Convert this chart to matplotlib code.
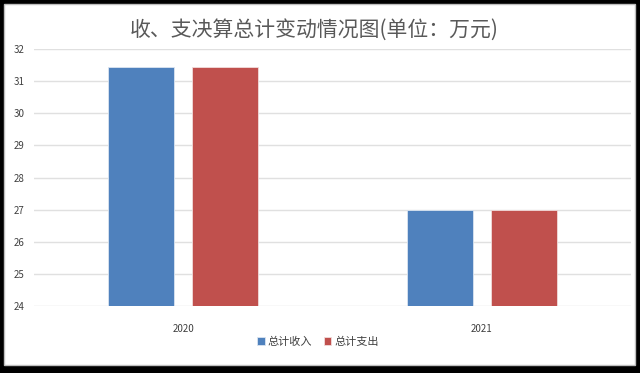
import matplotlib
matplotlib.use("Agg")
import matplotlib.pyplot as plt
from matplotlib.patches import Rectangle
import numpy as np

plt.rcParams['font.family'] = ['Noto Sans CJK SC', 'DejaVu Sans']

years = ["2020", "2021"]
income = [31.45, 27.0]
expense = [31.45, 27.0]
series_names = ["总计收入", "总计支出"]
title = "收、支决算总计变动情况图(单位：万元)"
yticks = [24, 25, 26, 27, 28, 29, 30, 31, 32]

W, H = 640, 373
fig = plt.figure(figsize=(W / 100, H / 100), dpi=100)
fig.patch.set_facecolor("black")
fig.add_artist(Rectangle((4 / W, 1 - 365 / H), 631 / W, 361 / H,
                         transform=fig.transFigure, facecolor="white",
                         edgecolor="#bfbfbf", linewidth=1, zorder=0))

ax = fig.add_axes([34 / W, 1 - 306 / H, 597 / W, 257 / H])
ax.set_facecolor("none")
x = np.arange(len(years))
bw = 0.221
off = 0.1407
ax.bar(x - off, income, bw, bottom=0, color="#4f81bd", edgecolor="#dbe5f1",
       linewidth=0.6, label=series_names[0], zorder=3)
ax.bar(x + off, expense, bw, bottom=0, color="#c0504d", edgecolor="#f2dcdb",
       linewidth=0.6, label=series_names[1], zorder=3)
ax.set_ylim(24, 32)
ax.set_xlim(-0.5, 1.5)
ax.set_yticks(yticks)
ax.set_yticklabels([str(v) for v in yticks])
ax.set_xticks(x)
ax.set_xticklabels(years)
ax.grid(axis="y", color="#e0e0e0", linewidth=1, zorder=0)
ax.set_axisbelow(True)
for s in ax.spines.values():
    s.set_visible(False)
ax.tick_params(axis="both", length=0, labelsize=7, labelcolor="#404040")
ax.tick_params(axis="y", pad=7)
ax.tick_params(axis="x", pad=13)

fig.text(314 / W, 1 - 30 / H, title, ha="center", va="center",
         fontsize=15, color="#595959")

fig.legend(loc="center", bbox_to_anchor=(318 / W, 1 - 342 / H), ncol=2,
           frameon=False, fontsize=8, handlelength=0.7, handleheight=0.7,
           handletextpad=0.3, columnspacing=1.0, labelcolor="#404040")

fig.savefig("out.png", dpi=100, facecolor=fig.get_facecolor())
